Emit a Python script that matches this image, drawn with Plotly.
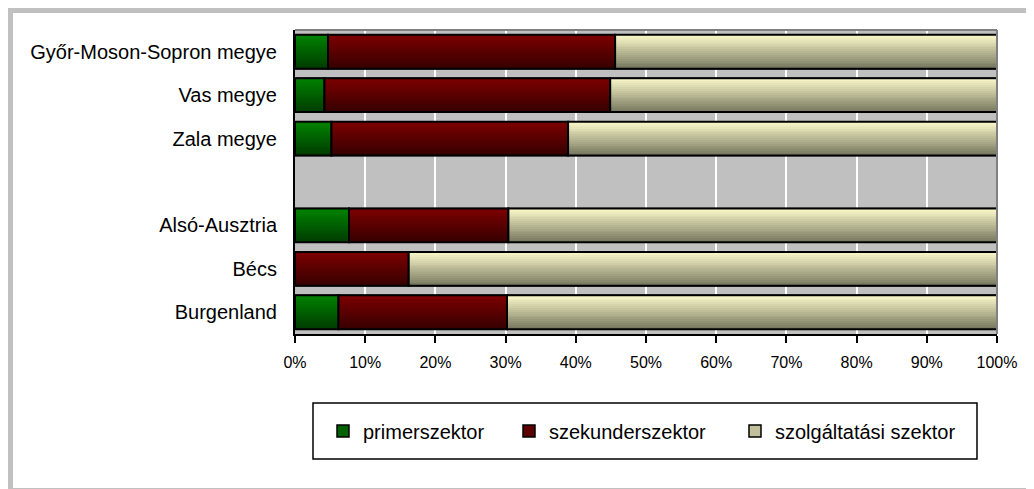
import plotly.graph_objects as go

categories = ["Győr-Moson-Sopron megye", "Vas megye", "Zala megye", " ",
              "Alsó-Ausztria", "Bécs", "Burgenland"]
primer = [4.7, 4.2, 5.2, None, 7.7, 0.0, 6.2]
szekunder = [40.9, 40.7, 33.7, None, 22.7, 16.2, 24.0]
szolgaltatasi = [54.4, 55.1, 61.1, None, 69.6, 83.8, 69.8]
series_names = ["primerszektor", "szekunderszektor", "szolgáltatási szektor"]
x_ticks = [0, 10, 20, 30, 40, 50, 60, 70, 80, 90, 100]
x_ticktext = ["%d%%" % v for v in x_ticks]

# gradient ends (top, bottom) per series
gradients = [((0, 130, 0), (0, 62, 0)),
             ((124, 0, 0), (56, 0, 0)),
             ((252, 250, 202), (122, 122, 98))]

# the page body has an 8px margin, so the figure starts at (8, 8) in the window
OFF = 8
W, H = 1026, 481
L, R, T, B = 287, 37, 22, 155
FONT = "Liberation Sans, Arial, sans-serif"


def px_x(p):
    # window pixel -> paper x
    return (p - OFF - L) / (W - L - R)


def px_y(p):
    # window pixel -> paper y
    return (H - B - (p - OFF)) / (H - T - B)


def mix(c1, c2, t):
    return "rgb(%d,%d,%d)" % tuple(round(a + (b - a) * t) for a, b in zip(c1, c2))


def add(a, b):
    return [None if x is None else x + y for x, y in zip(a, b)]


series = [primer, szekunder, szolgaltatasi]
bases = [[0 if v is not None else None for v in primer]]
bases.append(add(bases[0], primer))
bases.append(add(bases[1], szekunder))
legend_ids = ["legend", "legend2", "legend3"]

fig = go.Figure()
bw = 0.78
n_strips = 18

for name, vals, base, (top, bot), lg in zip(series_names, series, bases, gradients, legend_ids):
    # solid bar that carries the legend entry
    fig.add_trace(go.Bar(orientation="h", y=categories, x=vals, base=base, name=name,
                         width=bw, legend=lg,
                         marker=dict(color=mix(top, bot, 0.45),
                                     line=dict(color="black", width=1.5)),
                         hoverinfo="skip"))
    # vertical gradient made of thin strips
    for k in range(n_strips):
        fig.add_trace(go.Bar(orientation="h", y=categories, x=vals, base=base,
                             width=bw / n_strips, offset=-bw / 2 + k * bw / n_strips,
                             marker=dict(color=mix(top, bot, k / (n_strips - 1)),
                                         line=dict(width=0)),
                             showlegend=False, hoverinfo="skip"))
    # outline on top
    fig.add_trace(go.Bar(orientation="h", y=categories, x=vals, base=base, width=bw,
                         marker=dict(color="rgba(0,0,0,0)",
                                     line=dict(color="black", width=2)),
                         showlegend=False, hoverinfo="skip"))

shapes = [
    # outer frame
    dict(type="rect", xref="paper", yref="paper", x0=px_x(10), x1=px_x(1045),
         y0=px_y(10), y1=px_y(491), line=dict(color="#C0C0C0", width=6), layer="below"),
    # plot area border top / right
    dict(type="line", xref="paper", yref="paper", x0=0, x1=1, y0=1, y1=1,
         line=dict(color="#808080", width=2), layer="above"),
    dict(type="line", xref="paper", yref="paper", x0=1, x1=1, y0=0, y1=1,
         line=dict(color="#808080", width=2), layer="above"),
    # legend box
    dict(type="rect", xref="paper", yref="paper", x0=px_x(313), x1=px_x(977),
         y0=px_y(403), y1=px_y(459), line=dict(color="black", width=1.5)),
]


def legend_at(px):
    return dict(orientation="h", x=px_x(px), xanchor="left", y=px_y(431),
                yanchor="middle", font=dict(size=20, family=FONT),
                bgcolor="rgba(0,0,0,0)", borderwidth=0)


fig.update_layout(
    width=W, height=H,
    margin=dict(l=L, r=R, t=T, b=B),
    barmode="overlay",
    paper_bgcolor="white",
    plot_bgcolor="#C0C0C0",
    font=dict(family=FONT, color="black"),
    shapes=shapes,
    showlegend=True,
    legend=legend_at(323),
    legend2=legend_at(509),
    legend3=legend_at(735),
)
fig.update_xaxes(range=[0, 100], tickvals=x_ticks, ticktext=x_ticktext,
                 showgrid=True, gridcolor="white", gridwidth=2,
                 showline=True, linecolor="black", linewidth=2,
                 ticks="outside", ticklen=7, tickwidth=2, tickcolor="black",
                 tickfont=dict(size=16), ticklabelstandoff=6,
                 zeroline=False, fixedrange=True)
fig.update_yaxes(autorange="reversed", showgrid=False,
                 showline=True, linecolor="black", linewidth=2,
                 ticks="", tickfont=dict(size=20), ticklabelstandoff=12,
                 fixedrange=True)

fig.write_html("out.html")
